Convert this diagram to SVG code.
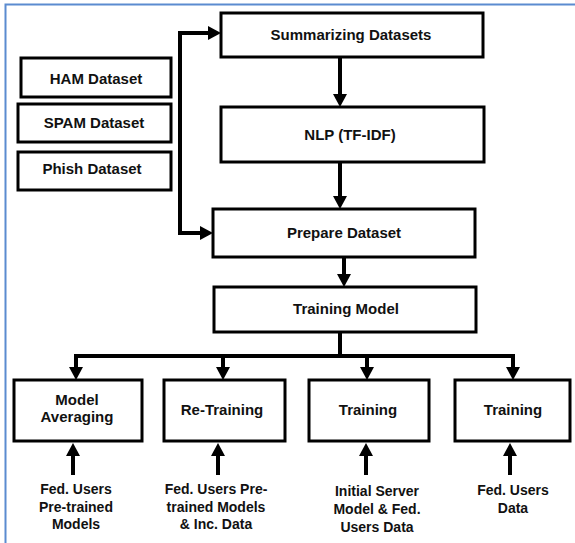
<svg xmlns="http://www.w3.org/2000/svg" width="575" height="543" viewBox="0 0 575 543">
  <style>
    .box { fill: #ffffff; stroke: #000000; stroke-width: 3; }
    .lbl { font-family: "Liberation Sans", Arial, sans-serif; font-weight: bold; font-size: 15px; fill: #111111; text-anchor: middle; }
    .note { font-family: "Liberation Sans", Arial, sans-serif; font-weight: bold; font-size: 14px; fill: #111111; text-anchor: middle; }
    .conn { fill: none; stroke: #000000; stroke-width: 4; stroke-linejoin: miter; marker-end: url(#head); }
    .bar { fill: none; stroke: #000000; stroke-width: 4; }
  </style>
  <defs>
    <marker id="head" markerUnits="userSpaceOnUse" markerWidth="13" markerHeight="14" refX="0" refY="7" orient="auto" overflow="visible">
      <path d="M0,0 L13,7 L0,14 z" fill="#000000"/>
    </marker>
  </defs>

  <!-- page background and blue frame -->
  <rect x="0" y="0" width="575" height="543" fill="#ffffff"/>
  <path d="M5.5,543 V4.5 H575" fill="none" stroke="#5b8bd0" stroke-width="2"/>

  <!-- source datasets -->
  <g id="ham">
    <rect class="box" x="21" y="58" width="150" height="39"/>
    <text class="lbl" x="96" y="84">HAM Dataset</text>
  </g>
  <g id="spam">
    <rect class="box" x="18" y="104" width="153" height="38"/>
    <text class="lbl" x="94" y="128">SPAM Dataset</text>
  </g>
  <g id="phish">
    <rect class="box" x="18" y="152" width="153" height="38"/>
    <text class="lbl" x="92" y="174">Phish Dataset</text>
  </g>

  <!-- pipeline -->
  <g id="summarize">
    <rect class="box" x="221" y="13" width="262" height="44"/>
    <text class="lbl" x="351" y="40">Summarizing Datasets</text>
  </g>
  <g id="nlp">
    <rect class="box" x="221" y="107" width="263" height="55"/>
    <text class="lbl" x="350" y="140">NLP (TF-IDF)</text>
  </g>
  <g id="prepare">
    <rect class="box" x="213" y="209" width="262" height="48"/>
    <text class="lbl" x="344" y="238">Prepare Dataset</text>
  </g>
  <g id="training-model">
    <rect class="box" x="214" y="287" width="262" height="45"/>
    <text class="lbl" x="346" y="314">Training Model</text>
  </g>

  <!-- federated stages -->
  <g id="model-averaging">
    <rect class="box" x="14" y="380" width="128" height="61"/>
    <text class="lbl" x="77" y="405">Model</text>
    <text class="lbl" x="77" y="422">Averaging</text>
  </g>
  <g id="re-training">
    <rect class="box" x="164" y="380" width="121" height="61"/>
    <text class="lbl" x="222" y="415">Re-Training</text>
  </g>
  <g id="training-1">
    <rect class="box" x="309" y="380" width="120" height="61"/>
    <text class="lbl" x="368" y="415">Training</text>
  </g>
  <g id="training-2">
    <rect class="box" x="455" y="380" width="115" height="61"/>
    <text class="lbl" x="513" y="415">Training</text>
  </g>

  <!-- inputs to each stage -->
  <g id="input-1">
    <text class="note" x="76" y="494">Fed. Users</text>
    <text class="note" x="76" y="511.5">Pre-trained</text>
    <text class="note" x="76" y="529">Models</text>
  </g>
  <g id="input-2">
    <text class="note" x="216" y="494">Fed. Users Pre-</text>
    <text class="note" x="216" y="511.5">trained Models</text>
    <text class="note" x="216" y="529">&amp; Inc. Data</text>
  </g>
  <g id="input-3">
    <text class="note" x="377" y="496">Initial Server</text>
    <text class="note" x="377" y="514">Model &amp; Fed.</text>
    <text class="note" x="377" y="532">Users Data</text>
  </g>
  <g id="input-4">
    <text class="note" x="513" y="495">Fed. Users</text>
    <text class="note" x="513" y="513">Data</text>
  </g>

  <!-- connectors -->
  <g id="connectors">
    <path class="conn" d="M180,235 V33 H208"/>
    <path class="conn" d="M180,33 V233 H200"/>
    <path class="conn" d="M340,57 V94"/>
    <path class="conn" d="M340,162 V196"/>
    <path class="conn" d="M344,257 V274"/>
    <path class="bar" d="M340,332 V356"/>
    <path class="bar" d="M74,356 H515"/>
    <path class="conn" d="M76,356 V367"/>
    <path class="conn" d="M223,356 V367"/>
    <path class="conn" d="M367,356 V367"/>
    <path class="conn" d="M513,356 V367"/>
    <path class="conn" d="M73,475 V456"/>
    <path class="conn" d="M218,475 V456"/>
    <path class="conn" d="M366,475 V456"/>
    <path class="conn" d="M510,475 V456"/>
  </g>
</svg>
